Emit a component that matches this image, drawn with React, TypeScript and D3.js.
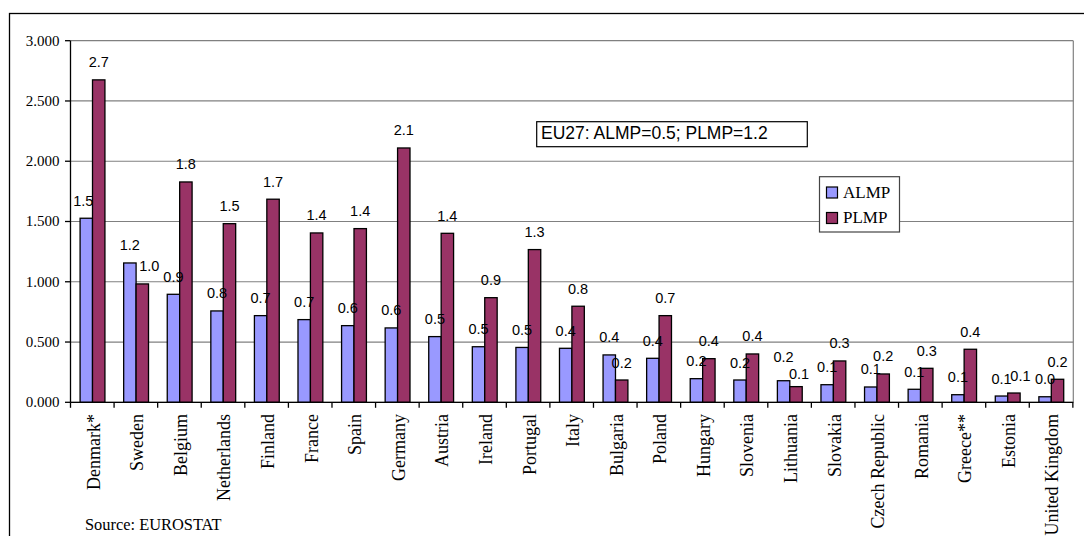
import React from "react";
import * as d3 from "d3";

const countries = [
  "Denmark*", "Sweden", "Belgium", "Netherlands", "Finland", "France", "Spain", "Germany",
  "Austria", "Ireland", "Portugal", "Italy", "Bulgaria", "Poland", "Hungary", "Slovenia",
  "Lithuania", "Slovakia", "Czech Republic", "Romania", "Greece**", "Estonia", "United Kingdom",
];
const almp = [
  1.527, 1.156, 0.896, 0.758, 0.719, 0.686, 0.636, 0.617,
  0.545, 0.461, 0.455, 0.448, 0.393, 0.365, 0.196, 0.185,
  0.179, 0.146, 0.127, 0.108, 0.063, 0.052, 0.046,
];
const plmp = [
  2.675, 0.982, 1.828, 1.482, 1.685, 1.405, 1.441, 2.11,
  1.402, 0.868, 1.267, 0.797, 0.185, 0.719, 0.362, 0.401,
  0.13, 0.343, 0.235, 0.282, 0.44, 0.077, 0.191,
];
const seriesNames = ["ALMP", "PLMP"];
const seriesColors = ["#9999FF", "#993366"];
const yTicks = [0, 0.5, 1.0, 1.5, 2.0, 2.5, 3.0];
const note = "EU27: ALMP=0.5; PLMP=1.2";
const source = "Source: EUROSTAT";

// small nudges [dx, dy] of individual value labels, as placed in the original
const labelNudge: Record<string, [number, number]> = {
  "Denmark*|0": [-3, 0],
  "Sweden|1": [7, 0],
  "Lithuania|0": [0, -6],
  "Lithuania|1": [3, 5],
  "Estonia|1": [6.5, 0],
};

const W = 1084;
const H = 536;
const plot = { left: 70.5, right: 1073.3, top: 40.7, bottom: 402.3 };

export default function App() {
  const x = d3.scaleBand<string>().domain(countries).range([plot.left, plot.right]).paddingInner(0.43).paddingOuter(0.22);
  const x1 = d3.scaleBand<string>().domain(seriesNames).range([0, x.bandwidth()]);
  const y = d3.scaleLinear().domain([0, 3]).range([plot.bottom, plot.top]);
  const fmtTick = d3.format(".3f");
  const fmtVal = d3.format(".1f");
  const step = x.step();
  const boundaries = d3.range(countries.length + 1).map((i) => plot.left + i * step);
  const data = [almp, plmp];
  const serif = "'Liberation Serif', 'Times New Roman', serif";
  const sans = "'Liberation Sans', Arial, sans-serif";

  return (
    <svg width={W} height={H} style={{ position: "absolute", left: 0, top: 0, background: "#fff" }}>
      <rect x={0} y={0} width={W} height={H} fill="#fff" />
      <rect x={9.5} y={13.5} width={W + 20} height={H + 20} fill="none" stroke="#000" strokeWidth={1.3} />
      {/* gridlines */}
      {yTicks.map((t) => (
        <line key={t} x1={plot.left} x2={plot.right} y1={y(t)} y2={y(t)} stroke="#808080" strokeWidth={1.2} />
      ))}
      <line x1={plot.right} x2={plot.right} y1={plot.top} y2={plot.bottom} stroke="#808080" strokeWidth={1.2} />
      {/* bars */}
      {countries.map((c, i) => (
        <g key={c}>
          {data.map((arr, s) => (
            <rect
              key={s}
              x={(x(c) as number) + (x1(seriesNames[s]) as number)}
              y={y(arr[i])}
              width={x1.bandwidth()}
              height={y(0) - y(arr[i])}
              fill={seriesColors[s]}
              stroke="#000"
              strokeWidth={1.3}
            />
          ))}
        </g>
      ))}
      {/* value labels */}
      {countries.map((c, i) =>
        data.map((arr, s) => {
          const nudge = labelNudge[c + "|" + s] || [0, 0];
          return (
            <text
              key={c + s}
              x={(x(c) as number) + (x1(seriesNames[s]) as number) + x1.bandwidth() / 2 + nudge[0]}
              y={y(arr[i]) - 12.5 + nudge[1]}
              textAnchor="middle"
              fontFamily={sans}
              fontSize={14.5}
              fill="#000"
            >
              {fmtVal(arr[i])}
            </text>
          );
        })
      )}
      {/* y axis */}
      <line x1={plot.left} x2={plot.left} y1={plot.top} y2={plot.bottom} stroke="#000" strokeWidth={1.3} />
      {yTicks.map((t) => (
        <g key={"yt" + t}>
          <line x1={plot.left - 5.5} x2={plot.left} y1={y(t)} y2={y(t)} stroke="#000" strokeWidth={1.3} />
          <text x={59.5} y={y(t)} dy="0.33em" textAnchor="end" fontFamily={serif} fontSize={15} fill="#000">
            {fmtTick(t)}
          </text>
        </g>
      ))}
      {/* x axis */}
      <line x1={plot.left} x2={plot.right} y1={plot.bottom} y2={plot.bottom} stroke="#000" strokeWidth={1.3} />
      {boundaries.map((b, i) => (
        <line key={"xt" + i} x1={b} x2={b} y1={plot.bottom} y2={plot.bottom + 5.5} stroke="#000" strokeWidth={1.3} />
      ))}
      {countries.map((c) => {
        const cx = (x(c) as number) + x.bandwidth() / 2;
        return (
          <text
            key={"xl" + c}
            transform={`translate(${cx + 7.2},414) rotate(-90)`}
            textAnchor="end"
            fontFamily={serif}
            fontSize={18}
            fill="#000"
          >
            {c}
          </text>
        );
      })}
      {/* EU27 note */}
      <rect x={536.7} y={121.7} width={270.6} height={25} fill="#fff" stroke="#000" strokeWidth={1.2} />
      <text x={541} y={139} fontFamily={sans} fontSize={17.5} fill="#000">
        {note}
      </text>
      {/* legend */}
      <rect x={819.5} y={176.7} width={80} height={55.3} fill="#fff" stroke="#444" strokeWidth={1.2} />
      {seriesNames.map((n, s) => (
        <g key={"lg" + n}>
          <rect x={826.5} y={187 + s * 25.5} width={11} height={11} fill={seriesColors[s]} stroke="#000" strokeWidth={1.2} />
          <text x={843} y={198 + s * 25.3} fontFamily={serif} fontSize={17} fill="#000">
            {n}
          </text>
        </g>
      ))}
      <text x={85} y={530} fontFamily={serif} fontSize={16.4} fill="#000">
        {source}
      </text>
    </svg>
  );
}
